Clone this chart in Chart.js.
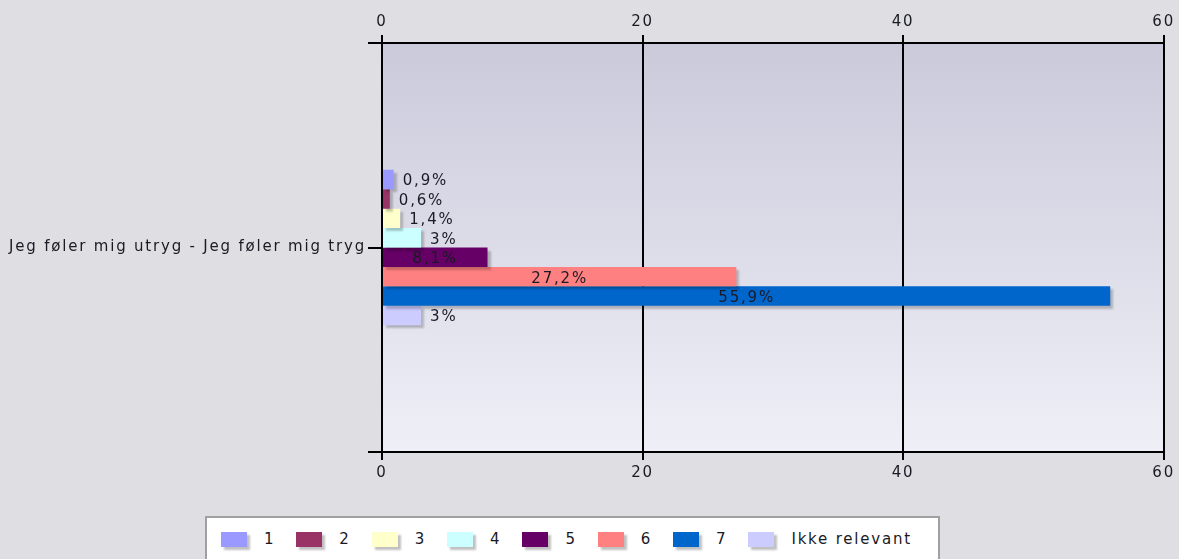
<!DOCTYPE html>
<html>
<head>
<meta charset="utf-8">
<script src="https://cdn.jsdelivr.net/npm/chart.js@4"></script>
<style>
  html, body { margin: 0; padding: 0; background: #dfdfe3; }
  body { width: 1179px; height: 559px; position: relative; overflow: hidden; font-family: 'DejaVu Sans', Verdana, sans-serif; }
  #wrap { position: absolute; left: 0; top: 0; width: 1179px; height: 500px; }
  #legend {
    position: absolute; left: 205px; top: 516px; width: 735px; height: 50px;
    background: #fff; border: 2px solid #a0a0a0; box-sizing: border-box;
    display: flex; align-items: flex-start; padding: 12px 0 0 14px;
    font-size: 15px; letter-spacing: 1.8px; color: #1a1a24;
  }
  .item { display: flex; align-items: center; margin-right: 21px; }
  .sw { width: 26px; height: 15px; margin-right: 17px; box-shadow: 3px 3px 2px rgba(0,0,0,0.25); }
</style>
</head>
<body>
<div id="wrap"><canvas id="chart"></canvas></div>
<div id="legend"></div>
<script>
const categories = ['Jeg føler mig utryg - Jeg føler mig tryg'];
const seriesLabels = ['1', '2', '3', '4', '5', '6', '7', 'Ikke relevant'];
const seriesValues = [0.9, 0.6, 1.4, 3, 8.1, 27.2, 55.9, 3];
const seriesColors = ['#9999ff', '#993366', '#ffffcc', '#ccffff', '#660066', '#ff8080', '#0066cc', '#ccccff'];
const xTicks = [0, 20, 40, 60];

const fontFamily = "'DejaVu Sans', Verdana, sans-serif";
const textColor = '#1a1a24';

// wide text spacing like the original rendering (canvas state resets on resize, so set it each time)
const spacingPlugin = {
    id: 'spacing',
    beforeLayout(chart) { chart.ctx.letterSpacing = '1.8px'; },
    beforeDraw(chart) { chart.ctx.letterSpacing = '1.8px'; }
};

// plot background gradient
const bgPlugin = {
    id: 'plotBg',
    beforeDraw(chart) {
        const { ctx, chartArea: a } = chart;
        const g = ctx.createLinearGradient(0, a.top, 0, a.bottom);
        g.addColorStop(0, '#cacadb');
        g.addColorStop(1, '#efeff7');
        ctx.save();
        ctx.fillStyle = g;
        ctx.fillRect(a.left, a.top, a.right - a.left, a.bottom - a.top);
        ctx.restore();
    }
};

// soft drop shadow under the bars
const shadowPlugin = {
    id: 'barShadow',
    beforeDatasetDraw(chart) {
        const ctx = chart.ctx;
        ctx.save();
        ctx.shadowColor = 'rgba(0,0,0,0.22)';
        ctx.shadowOffsetX = 3;
        ctx.shadowOffsetY = 3;
        ctx.shadowBlur = 2;
    },
    afterDatasetDraw(chart) {
        chart.ctx.restore();
    }
};

// value labels, plus the short extensions of the top/bottom frame lines
const labelPlugin = {
    id: 'valueLabels',
    afterDatasetsDraw(chart) {
        const { ctx, chartArea: a } = chart;
        ctx.save();
        ctx.font = '15px ' + fontFamily;
        ctx.fillStyle = textColor;
        ctx.textBaseline = 'middle';
        chart.data.datasets.forEach((ds, i) => {
            const bar = chart.getDatasetMeta(i).data[0];
            const v = ds.data[0];
            const txt = String(v).replace('.', ',') + '%';
            if (v >= 8) {
                ctx.textAlign = 'center';
                ctx.fillText(txt, (bar.base + bar.x) / 2, bar.y + 2);
            } else {
                ctx.textAlign = 'left';
                ctx.fillText(txt, bar.x + 9, bar.y + 2);
            }
        });
        ctx.strokeStyle = '#000';
        ctx.lineWidth = 2;
        ctx.beginPath();
        ctx.moveTo(a.left - 14, a.top); ctx.lineTo(a.left, a.top);
        ctx.moveTo(a.left - 14, a.bottom); ctx.lineTo(a.left, a.bottom);
        ctx.stroke();
        ctx.restore();
    }
};

const datasets = seriesLabels.map((lab, i) => ({
    label: lab,
    data: [seriesValues[i]],
    backgroundColor: seriesColors[i],
    borderWidth: 0,
    xAxisID: 'x'
}));

const xScale = (pos) => ({
    type: 'linear',
    position: pos,
    min: 0,
    max: 60,
    afterBuildTicks: s => { s.ticks = xTicks.map(v => ({ value: v })); },
    afterFit: s => { s.height = pos === 'top' ? 43 : 48; },
    grid: {
        color: '#000',
        lineWidth: 2,
        tickLength: 8,
        drawOnChartArea: pos === 'bottom'
    },
    border: { color: '#000', width: 2 },
    ticks: { color: textColor, font: { size: 15, family: fontFamily }, padding: 4 }
});

new Chart(document.getElementById('chart'), {
    type: 'bar',
    data: { labels: categories, datasets },
    plugins: [spacingPlugin, bgPlugin, shadowPlugin, labelPlugin],
    options: {
        indexAxis: 'y',
        responsive: true,
        maintainAspectRatio: false,
        animation: false,
        layout: { padding: { left: 0, right: 15, top: 0, bottom: 0 } },
        datasets: { bar: { categoryPercentage: 0.38, barPercentage: 1.0 } },
        scales: {
            x: xScale('bottom'),
            x2: { ...xScale('top'), afterDataLimits: s => { s.min = 0; s.max = 60; } },
            y: {
                type: 'category',
                afterFit: s => { s.width = 382; },
                grid: { color: '#000', lineWidth: 2, tickLength: 14, drawOnChartArea: false, offset: false },
                border: { color: '#000', width: 2 },
                ticks: { color: textColor, font: { size: 15, family: fontFamily }, padding: 2 }
            }
        },
        plugins: {
            legend: { display: false },
            tooltip: { enabled: false }
        }
    }
});

// legend, built from the same series arrays
document.getElementById('legend').innerHTML = seriesLabels.map((lab, i) => `
    <div class="item"><div class="sw" style="background:${seriesColors[i]}"></div><span>${lab}</span></div>
`).join('');
</script>
</body>
</html>
